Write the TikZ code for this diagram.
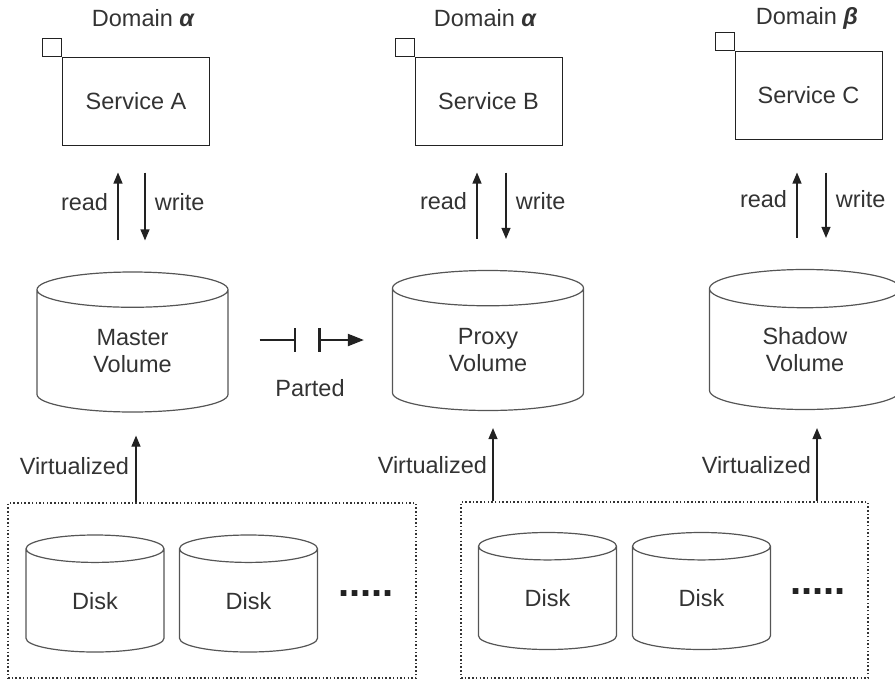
\documentclass[tikz,border=0pt]{standalone}
\usepackage{fontspec}
\setmainfont{Liberation Sans}
\usetikzlibrary{arrows.meta, positioning, shapes.geometric}
\definecolor{ink}{HTML}{222222}
\definecolor{txtgray}{HTML}{333333}
\definecolor{drumgray}{HTML}{555555}

\begin{document}
\begin{tikzpicture}[x=1pt, y=-1pt,
  every node/.style={text=txtgray, font=\fontsize{23.5}{27}\selectfont},
  svc/.style={draw=ink, line width=1pt, minimum width=147pt, minimum height=88pt, inner sep=0pt},
  tab/.style={draw=ink, line width=1pt, minimum width=19pt, minimum height=18pt, inner sep=0pt},
  drum/.style={cylinder, shape border rotate=90, draw=drumgray, line width=1.2pt,
    inner sep=0pt, align=center, anchor=shape center},
  vol/.style={drum, minimum width=191pt, minimum height=140pt, aspect=0.45},
  disk/.style={drum, minimum width=138pt, minimum height=117pt, aspect=0.6},
  pool/.style={draw=txtgray, line width=1.3pt, dash pattern=on 1.5pt off 2.2pt, inner sep=0pt},
  rw/.style={draw=ink, line width=1.2pt, -{Triangle[length=11pt, width=9pt]}},
  cut/.style={draw=ink, line width=2pt},
  more/.style={font=\fontsize{40}{40}\selectfont\bfseries, text=ink}
]
\useasboundingbox (0,0) rectangle (895,681);

% Services
\node[svc] (svcA) at (136,101) {Service A};
\node[svc] (svcB) at (488.5,101) {Service B};
\node[svc] (svcC) at (808.5,95) {Service C};
\node[tab, anchor=south east] (tabA) at (svcA.north west) {};
\node[tab, anchor=south east] (tabB) at (svcB.north west) {};
\node[tab, anchor=south east] (tabC) at (svcC.north west) {};

\node (domA) at (143,18) {Domain {\bfseries\itshape α}};
\node (domB) at (485,18) {Domain {\bfseries\itshape α}};
\node (domC) at (807,18) {Domain {\bfseries\itshape β}};

% Volumes
\node[vol] (volA) at (132.5,342) {Master\\Volume};
\node[vol] (volB) at (488,340.5) {Proxy\\Volume};
\node[vol] (volC) at (805,339.5) {Shadow\\Volume};

% read / write
\draw[rw, shorten <=31pt, shorten >=27pt] (volA.north -| 118,0) -- (svcA.south -| 118,0)
  node[pos=0.55, left=6pt] {read};
\draw[rw, shorten <=27pt, shorten >=31pt] (svcA.south -| 145,0) -- (volA.north -| 145,0)
  node[pos=0.45, right=6pt] {write};
\draw[rw, shorten <=31pt, shorten >=27pt] (volB.north -| 477,0) -- (svcB.south -| 477,0)
  node[pos=0.55, left=6pt] {read};
\draw[rw, shorten <=27pt, shorten >=31pt] (svcB.south -| 506,0) -- (volB.north -| 506,0)
  node[pos=0.45, right=6pt] {write};
\draw[rw, shorten <=31pt, shorten >=33pt] (volC.north -| 797,0) -- (svcC.south -| 797,0)
  node[pos=0.54, left=6pt] {read};
\draw[rw, shorten <=33pt, shorten >=31pt] (svcC.south -| 826,0) -- (volC.north -| 826,0)
  node[pos=0.46, right=6pt] {write};

% Parted
\coordinate (cutL) at (295,340);
\coordinate (cutR) at (319,340);
\draw[cut, shorten <=31pt] (volA.east |- cutL) -- (cutL);
\draw[cut] ([yshift=12pt]cutL) -- ([yshift=-12pt]cutL);
\draw[cut, line width=3pt] ([yshift=12pt]cutR) -- ([yshift=-12pt]cutR);
\draw[cut, -{Triangle[length=16pt, width=12pt]}, shorten >=28pt] (cutR) -- (volB.west |- cutR);
\node (parted) at (310,388) {Parted};

% Disk pools
\node[pool, minimum width=408pt, minimum height=175pt] (poolA) at (212,590.5) {};
\node[pool, minimum width=407pt, minimum height=176pt] (poolB) at (664.5,590) {};

\node[disk] (dskA1) at (95,593.5) {Disk};
\node[disk] (dskA2) at (248.5,593.5) {Disk};
\node[more] (moreA) at (366,594) {.....};
\node[disk] (dskB1) at (547.5,591) {Disk};
\node[disk] (dskB2) at (701.5,591) {Disk};
\node[more] (moreB) at (818,592) {.....};

% Virtualized
\draw[rw, shorten >=23pt] (poolA.north -| 136,0) -- (volA.south -| 136,0)
  node[pos=0.4, left=3pt] {Virtualized};
\draw[rw, shorten >=17pt] (poolB.north -| 493,0) -- (volB.south -| 493,0)
  node[pos=0.4, left=2pt] {Virtualized};
\draw[rw, shorten >=18pt] (poolB.north -| 817,0) -- (volC.south -| 817,0)
  node[pos=0.4, left=2pt] {Virtualized};

\end{tikzpicture}
\end{document}
